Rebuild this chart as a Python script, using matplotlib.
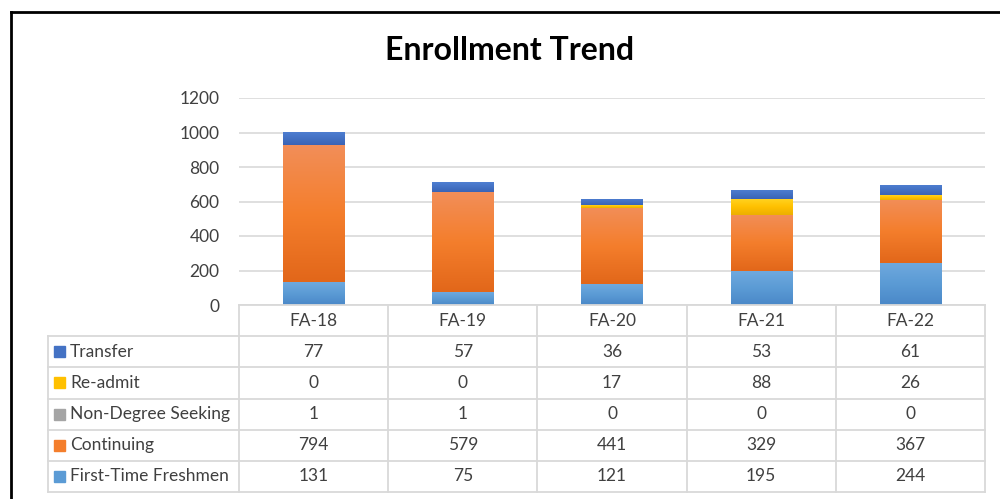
import matplotlib.pyplot as plt
import numpy as np
from matplotlib.colors import LinearSegmentedColormap
from matplotlib.patches import Rectangle
from matplotlib.lines import Line2D

plt.rcParams['font.family'] = ['Lato', 'DejaVu Sans']

terms = ["FA-18", "FA-19", "FA-20", "FA-21", "FA-22"]
freshmen = [131, 75, 121, 195, 244]
continuing = [794, 579, 441, 329, 367]
non_degree = [1, 1, 0, 0, 0]
readmit = [0, 0, 17, 88, 26]
transfer = [77, 57, 36, 53, 61]

# stack order bottom -> top
series = [
    ("First-Time Freshmen", freshmen, ("#6fa9de", "#5b9bd5", "#4a88c8")),
    ("Continuing", continuing, ("#f28e58", "#f47e2c", "#e2671a")),
    ("Non-Degree Seeking", non_degree, ("#b5b5b5", "#a5a5a5", "#959595")),
    ("Re-admit", readmit, ("#ffd21f", "#ffc000", "#ecb000")),
    ("Transfer", transfer, ("#4f7fd2", "#4472c4", "#3a63b5")),
]
table_order = ["Transfer", "Re-admit", "Non-Degree Seeking", "Continuing", "First-Time Freshmen"]

W, H = 1000, 499
fig = plt.figure(figsize=(W / 100, H / 100), dpi=100)

L, R = 239, 985
ax = fig.add_axes([L / W, 1 - 305 / H, (R - L) / W, (305 - 98) / H])
x = np.arange(len(terms))
bottom = np.zeros(len(terms))
grad = np.linspace(0, 1, 100).reshape(-1, 1)
for name, vals, cols in series:
    bars = ax.bar(x, vals, 0.41, bottom=bottom, color=cols[1], zorder=2, lw=0)
    cmap = LinearSegmentedColormap.from_list(name, list(cols))
    for b in bars:
        if b.get_height() <= 0:
            continue
        x0, y0 = b.get_x(), b.get_y()
        im = ax.imshow(grad[::-1], extent=[x0, x0 + b.get_width(), y0, y0 + b.get_height()],
                       aspect='auto', cmap=cmap, zorder=2.5, origin='lower')
        im.set_clip_path(b)
        b.set_facecolor('none')
    bottom += np.array(vals)

ax.set_xlim(-0.5, len(terms) - 0.5)
ax.set_ylim(0, 1200)
ax.set_yticks(range(0, 1201, 200))
ax.yaxis.grid(True, color="#d9d9d9", lw=1.2, zorder=0)
ax.set_axisbelow(True)
ax.set_xticks([])
for s in ax.spines.values():
    s.set_visible(False)
ax.tick_params(axis='y', length=0, labelsize=12.5, labelcolor="#404040", pad=14)

fig.text(0.51, 1 - 51 / H, "Enrollment Trend", ha='center', va='center',
         fontsize=23, fontweight='bold', color="#000000")

# data table below the plot, sharing the bar x positions
tax = fig.add_axes([L / W, 1 - 492 / H, (R - L) / W, (492 - 305) / H])
tax.set_xlim(-0.5, len(terms) - 0.5)
tax.set_ylim(6, 0)
tax.axis('off')
px = 1 / ((R - L) / len(terms))  # data units per pixel horizontally
py = 6 / (492 - 305)
xl = -0.5 - (L - 48) * px
gc = "#d9d9d9"
tax.add_line(Line2D([-0.5, 4.5], [0, 0], color=gc, lw=1.3, clip_on=False))
for r in range(1, 7):
    tax.add_line(Line2D([xl, 4.5], [r, r], color=gc, lw=1.3, clip_on=False))
tax.add_line(Line2D([xl, xl], [1, 6], color=gc, lw=1.3, clip_on=False))
for c in range(len(terms) + 1):
    tax.add_line(Line2D([c - 0.5, c - 0.5], [0, 6], color=gc, lw=1.3, clip_on=False))

for i, t in enumerate(terms):
    tax.text(i, 0.5, t, ha='center', va='center', fontsize=12.5, color="#404040")

lookup = {n: (v, c) for n, v, c in series}
for r, name in enumerate(table_order, start=1):
    vals, cols = lookup[name]
    tax.add_patch(Rectangle((xl + 6 * px, r + 0.5 - 5.5 * py), 11 * px, 11 * py,
                            color=cols[1], clip_on=False))
    tax.text(xl + 22 * px, r + 0.5, name, ha='left', va='center', fontsize=12.5,
             color="#404040", clip_on=False)
    for i, v in enumerate(vals):
        tax.text(i, r + 0.5, str(v), ha='center', va='center', fontsize=12.5, color="#404040")

# outer chart frame (left and top edges visible)
fig.add_artist(Line2D([11 / W, 11 / W], [0, 1 - 12 / H], color="black", lw=2))
fig.add_artist(Line2D([11 / W, 1], [1 - 12 / H, 1 - 12 / H], color="black", lw=2))

fig.savefig("out.png", dpi=100)
